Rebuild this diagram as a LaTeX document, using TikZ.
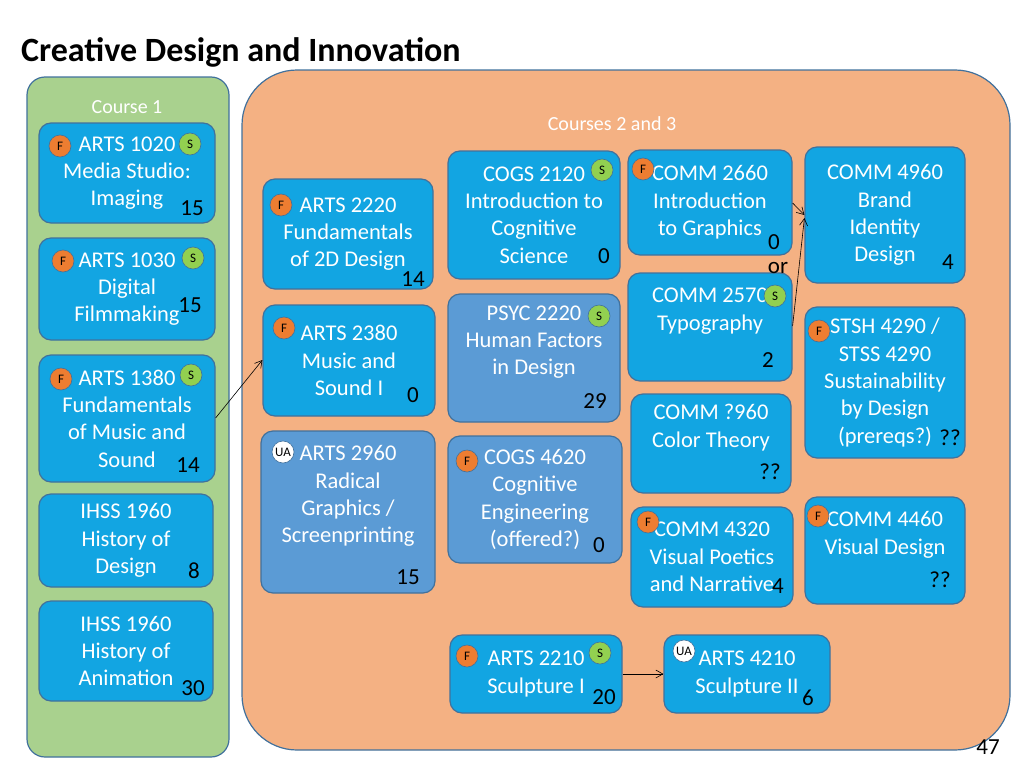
\documentclass[tikz,border=0pt]{standalone}
\usepackage{fontspec}
\setmainfont{Carlito}
\usetikzlibrary{arrows.meta}
\definecolor{cblue}{HTML}{12A5E2}
\definecolor{cdark}{HTML}{5B9BD5}
\definecolor{cedge}{HTML}{41719C}
\definecolor{corange}{HTML}{F4B183}
\definecolor{cgreen}{HTML}{A9D18E}
\definecolor{fbadge}{HTML}{ED7D31}
\definecolor{sbadge}{HTML}{92D050}
\newcommand{\bx}[7]{\node[#6, minimum width={(#4-#2)*1pt}, minimum height={(#5-#3)*1pt}] (#1) at ({(#2+#4)/2},{(#3+#5)/2}) {#7};}
\begin{document}
\begin{tikzpicture}[x=1pt,y=-1pt,
  txt/.style={font=\fontsize{22.5}{27.3}\selectfont, align=center, text=white, inner sep=0pt},
  box/.style={txt, draw=cedge, line width=1.2pt, fill=cblue, rounded corners=12pt},
  dbox/.style={box, fill=cdark},
  num/.style={font=\fontsize{23}{26}\selectfont, text=black, inner sep=0pt},
  badge/.style={circle, draw=cedge, line width=0.6pt, minimum size=22pt, inner sep=0pt, font=\fontsize{13}{14}\selectfont},
  F/.style={badge, fill=fbadge},
  S/.style={badge, fill=sbadge},
  UA/.style={badge, fill=white},
  arr/.style={-{Straight Barb[length=7pt,width=8pt]}, line width=0.6pt}]
\useasboundingbox (0,0) rectangle (1024,768);
\node[anchor=west, font=\fontsize{34}{38}\selectfont\bfseries, inner sep=0pt] (title) at (21,52) {Creative Design and Innovation};
\node[draw=cedge, line width=1.2pt, fill=cgreen, rounded corners=18pt, minimum width=202pt, minimum height=680pt] (c1) at (128,417) {};
\node[txt, font=\fontsize{20}{24}\selectfont] (c1l) at (127,107) {Course 1};
\node[draw=cedge, line width=1.2pt, fill=corange, rounded corners=55pt, minimum width=768pt, minimum height=680pt] (c2) at (626,410) {};
\node[txt, font=\fontsize{20}{24}\selectfont] (c2l) at (612,124) {Courses 2 and 3};
% Course 1
\bx{a1020}{39}{123}{215}{223}{box}{ARTS 1020\\Media Studio:\\Imaging}
\bx{a1030}{39}{238}{215}{340}{box}{ARTS 1030\\Digital\\Filmmaking}
\bx{a1380}{39}{355}{215}{482}{box}{ARTS 1380\\Fundamentals\\of Music and\\Sound}
\bx{i1}{39}{494}{213}{587}{box}{IHSS 1960\\History of\\Design}
\bx{i2}{39}{601}{213}{701}{box}{IHSS 1960\\History of\\Animation}
% Courses 2,3
\bx{a2220}{263}{179}{433}{289}{box}{ARTS 2220\\Fundamentals\\of 2D Design}
\bx{a2380}{263}{305}{435}{416}{box}{ARTS 2380\\Music and\\Sound I}
\bx{a2960}{261}{431}{435}{593}{dbox}{ARTS 2960\\Radical\\Graphics /\\Screenprinting\\\strut}
\bx{g2120}{448}{151}{620}{279}{box}{COGS 2120\\Introduction to\\Cognitive\\Science}
\bx{p2220}{448}{294}{620}{422}{dbox}{PSYC 2220\\Human Factors\\in Design\\\strut}
\bx{g4620}{448}{436}{622}{563}{dbox}{COGS 4620\\Cognitive\\Engineering\\(offered?)}
\bx{a2210}{450}{635}{622}{713}{box}{ARTS 2210\\Sculpture I}
\bx{a4210}{664}{635}{830}{713}{box}{ARTS 4210\\Sculpture II}
\bx{m2660}{628}{150}{792}{255}{box}{COMM 2660\\Introduction\\to Graphics}
\bx{m2570}{628}{273}{792}{381}{box}{COMM 2570\\Typography\\\strut}
\bx{m960}{631}{394}{791}{493}{box}{COMM ?960\\Color Theory\\\strut}
\bx{m4320}{631}{507}{793}{607}{box}{COMM 4320\\Visual Poetics\\and Narrative}
\bx{m4960}{805}{147}{965}{283}{box}{COMM 4960\\Brand\\Identity\\Design}
\bx{s4290}{805}{307}{965}{458}{box}{STSH 4290 /\\STSS 4290\\Sustainability\\by Design\\(prereqs?)}
\bx{m4460}{805}{497}{965}{604}{box}{COMM 4460\\Visual Design\\\strut}
% numbers
\node[num] (n1) at (192,208) {15};
\node[num] (n2) at (190,305) {15};
\node[num] (n3) at (188,465) {14};
\node[num] (n4) at (194,571) {8};
\node[num] (n5) at (193,688) {30};
\node[num] (n6) at (413,279) {14};
\node[num] (n7) at (413,395) {0};
\node[num] (n8) at (408,577) {15};
\node[num] (n9) at (604,256) {0};
\node[num] (n10) at (595,401) {29};
\node[num] (n11) at (599,545) {0};
\node[num] (n12) at (604,697) {20};
\node[num] (n13) at (808,698) {6};
\node[num] (n14) at (774,242) {0};
\node[num] (nor) at (778,268) {or};
\node[num] (n15) at (768,360) {2};
\node[num] (n16) at (770,472) {??};
\node[num] (n17) at (778,586) {4};
\node[num] (n18) at (948,262) {4};
\node[num] (n19) at (950,438) {??};
\node[num] (n20) at (940,580) {??};
% badges
\node[F] (b1) at (60,146) {F}; \node[S] (b2) at (190,144) {S};
\node[F] (b3) at (63,261) {F}; \node[S] (b4) at (193,258) {S};
\node[F] (b5) at (61,379) {F}; \node[S] (b6) at (191,375) {S};
\node[F] (b7) at (281,205) {F};
\node[F] (b8) at (284,328) {F};
\node[UA] (b9) at (283,452) {UA};
\node[S] (b10) at (602,170) {S};
\node[S] (b11) at (599,316) {S};
\node[F] (b12) at (467,461) {F};
\node[F] (b13) at (467,656) {F}; \node[S] (b14) at (600,653) {S};
\node[UA] (b15) at (684,651) {UA};
\node[F] (b16) at (643,169) {F};
\node[S] (b17) at (775,296) {S};
\node[F] (b18) at (648,522) {F};
\node[F] (b19) at (819,331) {F};
\node[F] (b20) at (818,516) {F};
% arrows
\draw[arr] (a1380.east |- 0,418) -- (a2380.west |- 0,360);
\draw[arr] (a2210.east |- 0,674) -- (a4210.west |- 0,674);
\draw[arr] (m2660.east |- 0,203) -- (m4960.west |- 0,215);
\draw[arr] (m2570.east |- 0,326) -- (m4960.west |- 0,218);
\node[font=\fontsize{23}{26}\selectfont, inner sep=0pt] (pg) at (988,747) {47};
\end{tikzpicture}
\end{document}
